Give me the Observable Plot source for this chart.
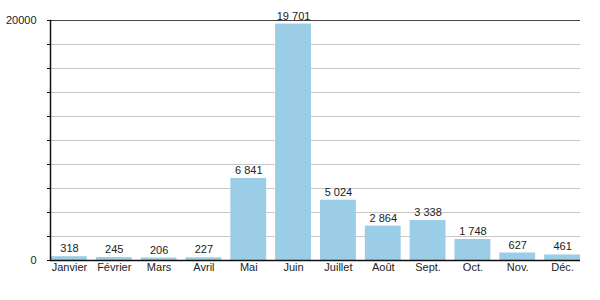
<!DOCTYPE html>
<html>
<head>
<meta charset="utf-8">
<script src="https://cdn.jsdelivr.net/npm/d3@7"></script>
<script src="https://cdn.jsdelivr.net/npm/@observablehq/plot@0.6"></script>
<style>
  html, body { margin: 0; padding: 0; background: #fff; }
  #chart svg { font-family: "Liberation Sans", Arial, sans-serif; }
</style>
</head>
<body>
<div id="chart"></div>
<script>
const months = ["Janvier","Février","Mars","Avril","Mai","Juin","Juillet","Août","Sept.","Oct.","Nov.","Déc."];
const values = [318, 245, 206, 227, 6841, 19701, 5024, 2864, 3338, 1748, 627, 461];
const yTicks = [0, 2000, 4000, 6000, 8000, 10000, 12000, 14000, 16000, 18000, 20000];
const yLabels = [0, 20000];

const data = months.map((m, i) => ({month: m, value: values[i]}));
const fmt = d3.formatLocale({decimal: ",", thousands: "\u00a0", grouping: [3], currency: ["", ""]}).format(",d");

const chart = Plot.plot({
  width: 600,
  height: 300,
  marginLeft: 51,
  marginRight: 20,
  marginTop: 20,
  marginBottom: 40,
  style: {fontSize: "11px", fontFamily: "'Liberation Sans', Arial, sans-serif", color: "#222"},
  x: {domain: months, paddingInner: 0.2, paddingOuter: 0, round: false, label: null},
  y: {domain: [0, 20000], label: null},
  marks: [
    Plot.gridY(yTicks, {stroke: "#c8c8c8", strokeOpacity: 1}),
    Plot.barY(data, {x: "month", y: "value", fill: "#9ccde6"}),
    Plot.ruleY([20000], {stroke: "#444", strokeWidth: 1.2}),
    Plot.ruleY([0], {stroke: "#111", strokeWidth: 1.5, dx: 0}),
    Plot.axisY(yTicks, {tickSize: 3, tickPadding: 11, stroke: "#111", dx: -1, tickFormat: d => yLabels.includes(d) ? String(d) : "", fill: "#222"}),
    Plot.frame({anchor: "left", stroke: "#111", strokeWidth: 1.5, dx: -1}),
    Plot.axisX({tickSize: 0, tickPadding: 3, fill: "#222"}),
    Plot.text(data, {x: "month", y: "value", text: d => fmt(d.value), dy: -8, fill: "#222"})
  ]
});
document.getElementById("chart").append(chart);
</script>
</body>
</html>
